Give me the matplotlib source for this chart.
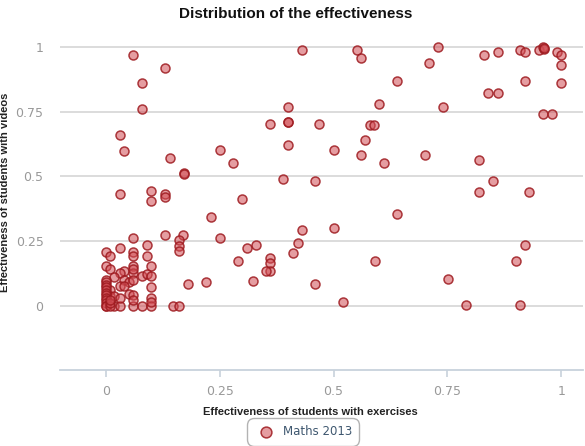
import matplotlib.pyplot as plt
from matplotlib import font_manager

# effectiveness values (exercises, videos)
ex_upper = [0.060, 0.131, 0.080, 0.080, 0.031, 0.041, 0.140, 0.171, 0.172,
            0.031, 0.100, 0.100, 0.131, 0.131, 0.251, 0.280, 0.300, 0.230,
            0.400, 0.400, 0.401, 0.360, 0.468, 0.400, 0.390, 0.460]
vid_upper = [0.969, 0.919, 0.860, 0.759, 0.660, 0.600, 0.571, 0.514, 0.510,
             0.432, 0.442, 0.403, 0.432, 0.421, 0.601, 0.551, 0.412, 0.342,
             0.770, 0.709, 0.711, 0.701, 0.701, 0.620, 0.491, 0.481]

ex_right = [0.430, 0.551, 0.560, 0.730, 0.710, 0.640, 0.600, 0.740,
            0.830, 0.860, 0.909, 0.920, 0.950, 0.959, 0.961, 0.962, 0.990,
            1.000, 1.000, 1.000, 0.920, 0.840, 0.860, 0.959, 0.980,
            0.580, 0.589, 0.570, 0.500, 0.560, 0.610, 0.700, 0.820, 0.849,
            0.820, 0.930, 0.640]
vid_right = [0.990, 0.988, 0.960, 1.000, 0.939, 0.870, 0.780, 0.770,
             0.969, 0.980, 0.988, 0.980, 0.988, 0.999, 0.992, 0.996, 0.980,
             0.969, 0.931, 0.860, 0.870, 0.821, 0.821, 0.741, 0.741,
             0.700, 0.700, 0.641, 0.601, 0.582, 0.551, 0.582, 0.563, 0.481,
             0.441, 0.441, 0.353]

ex_low = [0.430, 0.500, 0.421, 0.330, 0.410, 0.360, 0.360, 0.360, 0.351,
          0.323, 0.460, 0.590, 0.751, 0.900, 0.920, 0.520, 0.791, 0.910,
          0.251, 0.291, 0.311, 0.180, 0.219, 0.170, 0.160, 0.160, 0.160,
          0.131, 0.147, 0.160]
vid_low = [0.292, 0.302, 0.243, 0.233, 0.203, 0.184, 0.165, 0.134, 0.134,
           0.094, 0.084, 0.174, 0.103, 0.174, 0.233, 0.013, 0.004, 0.004,
           0.263, 0.174, 0.223, 0.084, 0.093, 0.274, 0.252, 0.232, 0.210,
           0.274, 0.000, 0.000]

ex_cluster = [0.060, 0.031, 0.091, 0.000, 0.010, 0.060, 0.060, 0.091, 0.000,
              0.010, 0.060, 0.100, 0.041, 0.031, 0.019, 0.060, 0.080, 0.091,
              0.100, 0.050, 0.060, 0.100, 0.100, 0.041, 0.050, 0.031, 0.041,
              0.010, 0.010, 0.019, 0.019, 0.031, 0.031, 0.060, 0.060,
              0.000, 0.000, 0.000, 0.000, 0.000, 0.000, 0.000, 0.000, 0.000,
              0.000, 0.000, 0.000, 0.010, 0.010, 0.010, 0.060, 0.080, 0.100,
              0.060, 0.100]
vid_cluster = [0.261, 0.221, 0.234, 0.206, 0.193, 0.206, 0.190, 0.193, 0.154,
               0.143, 0.154, 0.154, 0.135, 0.126, 0.111, 0.126, 0.116, 0.124,
               0.113, 0.046, 0.040, 0.072, 0.028, 0.100, 0.090, 0.077, 0.077,
               0.062, 0.036, 0.036, 0.000, 0.000, 0.028, 0.142, 0.100,
               0.100, 0.090, 0.080, 0.070, 0.060, 0.050, 0.040, 0.030, 0.020,
               0.010, 0.000, 0.000, 0.000, 0.010, 0.020, 0.000, 0.000, 0.000,
               0.020, 0.015]

x = ex_upper + ex_right + ex_low + ex_cluster
y = vid_upper + vid_right + vid_low + vid_cluster

names = {f.name for f in font_manager.fontManager.ttflist}
narrow = 'Liberation Sans Narrow' if 'Liberation Sans Narrow' in names else 'Liberation Sans'

fig = plt.figure(figsize=(5.85, 4.46), dpi=100)
ax = fig.add_axes([0.103, 0.170, 0.894, 0.759])

ax.scatter(x, y, s=42, facecolor=(0.82, 0.30, 0.33, 0.55),
           edgecolor=(0.62, 0.1, 0.12, 0.85), linewidth=1.1,
           label='Maths 2013', zorder=3)

ax.set_xlim(-0.1, 1.048)
ax.set_ylim(-0.25, 1.06)
ax.set_xticks([0, 0.25, 0.5, 0.75, 1])
ax.set_xticklabels(['0', '0.25', '0.5', '0.75', '1'])
ax.set_yticks([0, 0.25, 0.5, 0.75, 1])
ax.set_yticklabels(['0', '0.25', '0.5', '0.75', '1'])
ax.grid(axis='y', color='#d9d9d9', linewidth=1.3)
ax.set_axisbelow(True)

for s in ['top', 'right', 'left']:
    ax.spines[s].set_visible(False)
ax.spines['bottom'].set_color('#c8d2dc')
ax.spines['bottom'].set_linewidth(1.3)
ax.tick_params(axis='x', colors='#c8d2dc', length=5, width=1.2, labelcolor='#999999',
               labelsize=9, pad=6)
ax.tick_params(axis='y', length=0, labelcolor='#999999', labelsize=9, pad=12)

ax.set_xlabel('Effectiveness of students with exercises', fontsize=8,
              fontweight='bold', family=narrow, color='#222222')
ax.xaxis.set_label_coords(0.478, -0.109)
ax.set_ylabel('Effectiveness of students with videos', fontsize=8,
              fontweight='bold', family=narrow, color='#222222')
ax.yaxis.set_label_coords(-0.096, 0.526)
fig.suptitle('Distribution of the effectiveness', x=0.505, y=0.985,
             fontsize=11, fontweight='bold', family=narrow, color='#111111')

leg = fig.legend(loc='center', bbox_to_anchor=(0.518, 0.032), frameon=True,
                 fontsize=8.5, handletextpad=0.4, borderpad=0.45, markerscale=1.2)
leg.get_frame().set_edgecolor('#a0a0a0')
leg.get_frame().set_boxstyle('round,pad=0.2,rounding_size=0.6')
for t in leg.get_texts():
    t.set_color('#3e576f')

fig.savefig('out.png', dpi=100)
